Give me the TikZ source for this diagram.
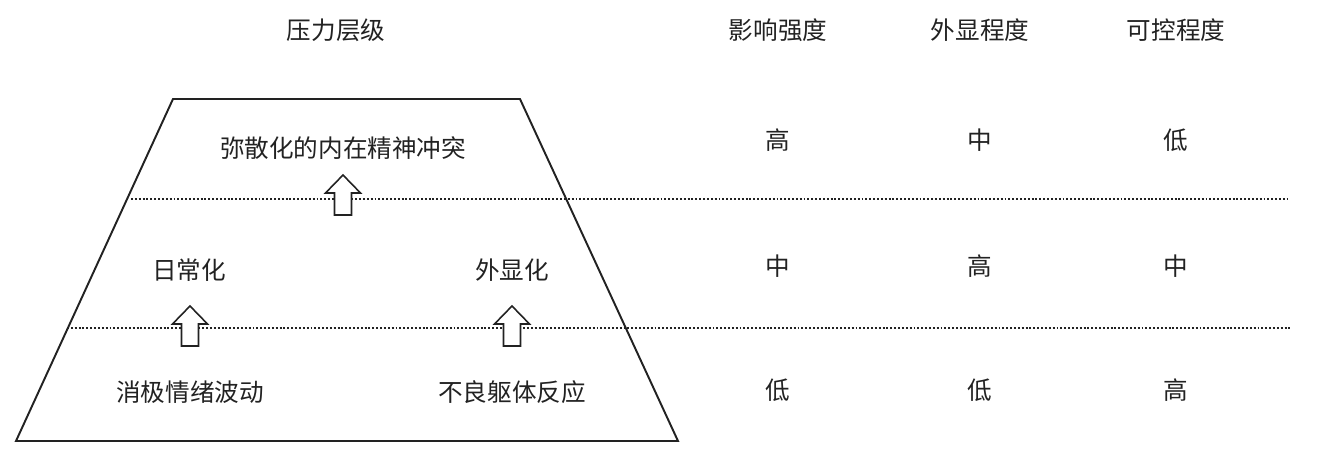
\documentclass[tikz,border=0pt]{standalone}
\usepackage{fontspec}
\newfontfamily\cjk{Noto Sans CJK SC}
\usepackage{xcolor}
\definecolor{ink}{HTML}{222222}
\usepackage{tikz}
\usetikzlibrary{calc}
\tikzset{
  every picture/.style={font=\cjk\fontsize{14}{16}\selectfont, line width=0.6pt, x=0.02cm, y=-0.02cm},
  label/.style={text=ink, inner sep=1pt},
  frame/.style={draw=ink, line width=1.1pt, line join=miter},
  divider/.style={draw=ink, line width=1pt, dash pattern=on 1.1pt off 1.1pt},
  uparrow/.pic={
    \draw[draw=ink, fill=white, line width=0.9pt, line join=miter]
      (-8.5,0) -- (-8.5,-22) -- (-17.5,-22) -- (0,-40) -- (17.5,-22) -- (8.5,-22) -- (8.5,0) -- cycle;
  },
}
\begin{document}
\begin{tikzpicture}
  \useasboundingbox (0,0) rectangle (1323,450);
  % column heads
  \node[label] (title) at (336,30) {压力层级};
  \node[label] (impact) at (778,30) {影响强度};
  \node[label] (visible) at (980,30) {外显程度};
  \node[label] (control) at (1176,30) {可控程度};
  % pyramid
  \draw[frame] (173,99) -- (520,99) -- (678,441) -- (16,441) -- cycle;
  \draw[divider] (131,199) -- (1288,199);
  \draw[divider] (67,328) -- (1290,328);
  % levels
  \node[label] (diffuse) at (343,148) {弥散化的内在精神冲突};
  \node[label] (daily) at (189,270) {日常化};
  \node[label] (overt) at (512,270) {外显化};
  \node[label] (mood) at (190,392) {消极情绪波动};
  \node[label] (body) at (512,392) {不良躯体反应};
  \pic at (343,215) {uparrow};
  \pic at (190,346) {uparrow};
  \pic at (512,346) {uparrow};
  % ratings
  \foreach \y/\a/\b/\c in {140/高/中/低, 266/中/高/中, 390/低/低/高} {
    \node[label] at (778,\y) {\a};
    \node[label] at (980,\y) {\b};
    \node[label] at (1176,\y) {\c};
  }
\end{tikzpicture}
\end{document}
